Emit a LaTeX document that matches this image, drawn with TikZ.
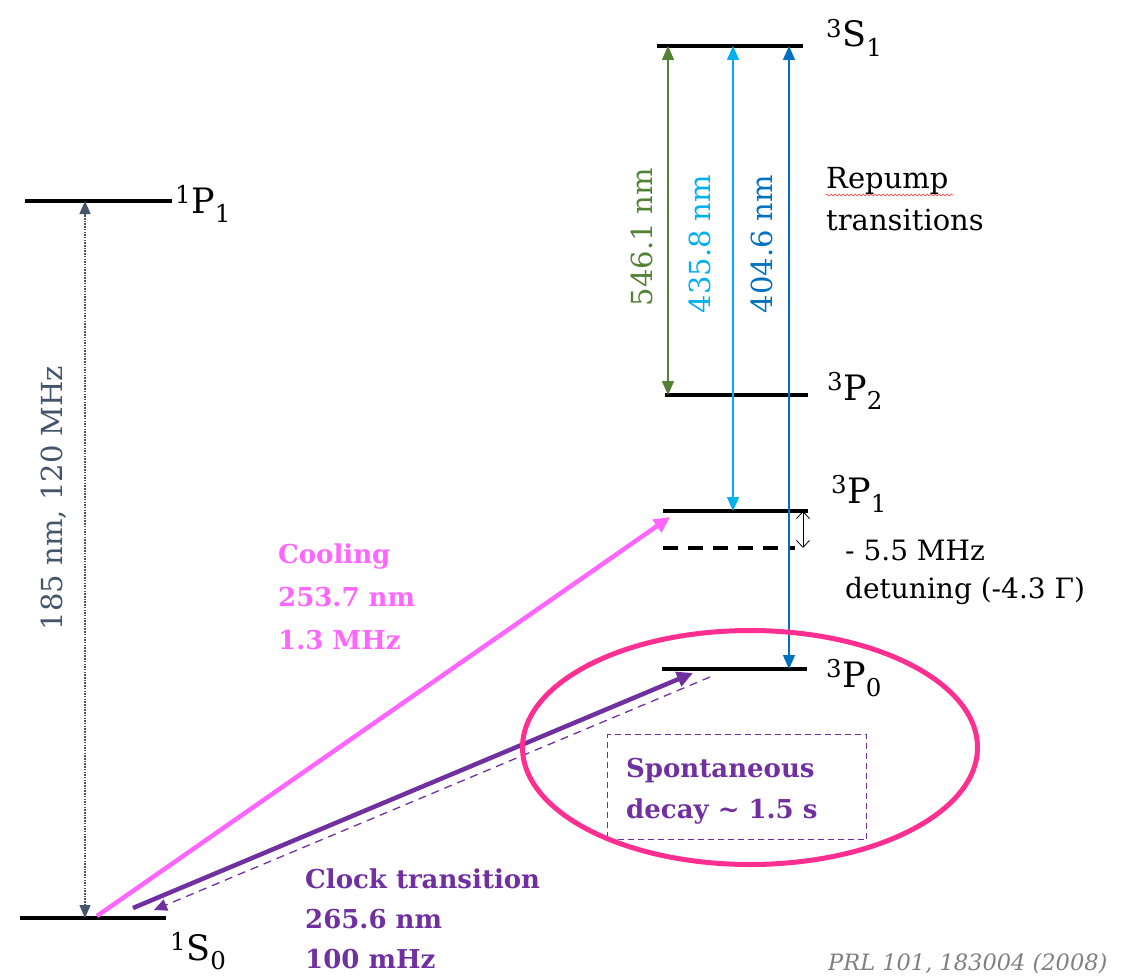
\documentclass[tikz,border=0pt]{standalone}
\usepackage{fontspec}
\setmainfont{DejaVu Serif}
\usetikzlibrary{arrows.meta,shapes.geometric,decorations.pathmorphing}
\definecolor{slate}{HTML}{44546A}
\definecolor{lgreen}{HTML}{548235}
\definecolor{lblue}{HTML}{00B0F0}
\definecolor{dblue}{HTML}{0070C0}
\definecolor{coolpink}{HTML}{FF66FF}
\definecolor{clockpurple}{HTML}{7030A0}
\definecolor{ovalpink}{HTML}{FF2F92}
\definecolor{refgray}{HTML}{7F7F7F}
\newcommand{\termlbl}[3]{\textsuperscript{#1}#2\textsubscript{#3}}
\begin{document}
\begin{tikzpicture}[x=1pt,y=-1pt,
  levelline/.style={line width=3.2pt, black},
  statelbl/.style={inner sep=0pt, anchor=base west, font=\fontsize{35}{42}\selectfont},
  plaintxt/.style={inner sep=0pt, anchor=base west, font=\fontsize{29}{34}\selectfont},
  boldtxt/.style={inner sep=0pt, anchor=base west, font=\fontsize{26}{32}\selectfont\bfseries},
  rottxt/.style={inner sep=0pt, anchor=base, rotate=90, font=\fontsize{29}{34}\selectfont},
  bothtri/.style={{Triangle[length=14pt,width=12pt]}-{Triangle[length=14pt,width=12pt]}, line width=1.5pt},
]
\useasboundingbox (0,0) rectangle (1124,979);
\clip (0,0) rectangle (1124,979);

% level end points
\coordinate (P1a) at (25,201);   \coordinate (P1b) at (172,201);
\coordinate (S0a) at (20,918);   \coordinate (S0b) at (166,918);
\coordinate (S1a) at (657,46);   \coordinate (S1b) at (803,46);
\coordinate (P2a) at (665,395);  \coordinate (P2b) at (808,395);
\coordinate (tP1a) at (663,511); \coordinate (tP1b) at (808,511);
\coordinate (Da) at (663,548);   \coordinate (Db) at (795,548);
\coordinate (P0a) at (662,669);  \coordinate (P0b) at (807,669);

% levels
\draw[levelline] (P1a) -- (P1b);
\draw[levelline] (S0a) -- (S0b);
\draw[levelline] (S1a) -- (S1b);
\draw[levelline] (P2a) -- (P2b);
\draw[levelline] (tP1a) -- (tP1b);
\draw[levelline, dash pattern=on 15pt off 10pt] (Da) -- (Db);
\draw[levelline] (P0a) -- (P0b);

% level labels
\node[statelbl] (lP1) at (175,213) {\termlbl{1}{P}{1}};
\node[statelbl] (lS0) at (170,960) {\termlbl{1}{S}{0}};
\node[statelbl] (lS1) at (826,47) {\termlbl{3}{S}{1}};
\node[statelbl] (lP2) at (827,400) {\termlbl{3}{P}{2}};
\node[statelbl] (ltP1) at (831,503) {\termlbl{3}{P}{1}};
\node[statelbl] (lP0) at (826,687) {\termlbl{3}{P}{0}};

% 185 nm transition
\coordinate (gS0) at (85,918); \coordinate (gP1) at (85,201);
\draw[slate, line width=1.3pt, dash pattern=on 1.5pt off 1.2pt,
  {Triangle[length=13pt,width=11pt]}-{Triangle[length=13pt,width=11pt]}] (gS0) -- (gP1);
\node[rottxt, text=slate] (l185) at (62,498) {185 nm, 120 MHz};

% repump transitions
\coordinate (grS1) at (668,46);  \coordinate (grP2) at (668,395);
\coordinate (lbS1) at (733,46);  \coordinate (lbP1) at (733,511);
\coordinate (dbS1) at (789,46);  \coordinate (dbP0) at (789,669);
\draw[bothtri, lgreen] (grP2) -- (grS1);
\draw[bothtri, lblue, line width=1.3pt] (lbP1) -- (lbS1);
\draw[bothtri, dblue, line width=1.3pt] (dbP0) -- (dbS1);
\node[rottxt, text=lgreen] (l546) at (652,237) {546.1 nm};
\node[rottxt, text=lblue] (l435) at (710,244) {435.8 nm};
\node[rottxt, text=dblue] (l404) at (772,244) {404.6 nm};
\node[plaintxt] (rep1) at (826,188) {Repump};
\node[plaintxt] (rep2) at (826,230) {transitions};
\coordinate (sq1) at (826,195); \coordinate (sq2) at (953,195);
\draw[red!80, line width=0.6pt, decorate, decoration={snake, amplitude=1pt, segment length=4pt}] (sq1) -- (sq2);

% detuning
\coordinate (dtA) at (803,511); \coordinate (dtB) at (803,548);
\draw[line width=0.8pt, {Straight Barb[length=7pt,width=13pt]}-{Straight Barb[length=7pt,width=13pt]}] (dtA) -- (dtB);
\node[plaintxt, font=\fontsize{28}{33}\selectfont] (det1) at (845,560) {- 5.5 MHz};
\node[plaintxt, font=\fontsize{28}{33}\selectfont] (det2) at (845,598) {detuning (-4.3 Γ)};

% cooling
\coordinate (coA) at (97,916); \coordinate (coB) at (670,517);
\draw[coolpink, line width=4.5pt, -{Triangle[length=16pt,width=15pt]}] (coA) -- (coB);
\node[boldtxt, text=coolpink] (co1) at (278,563) {Cooling};
\node[boldtxt, text=coolpink] (co2) at (278,606) {253.7 nm};
\node[boldtxt, text=coolpink] (co3) at (278,649) {1.3 MHz};

% clock
\coordinate (clA) at (133,908); \coordinate (clB) at (693,673);
\coordinate (dcA) at (710,677); \coordinate (dcB) at (154,910);
\draw[clockpurple, line width=4.5pt, -{Triangle[length=16pt,width=15pt]}] (clA) -- (clB);
\draw[clockpurple, line width=1.3pt, dash pattern=on 8pt off 6pt, -{Triangle[length=13pt,width=12pt]}] (dcA) -- (dcB);
\node[boldtxt, text=clockpurple] (cl1) at (305,888) {Clock transition};
\node[boldtxt, text=clockpurple] (cl2) at (305,928) {265.6 nm};
\node[boldtxt, text=clockpurple] (cl3) at (305,968) {100 mHz};

% spontaneous decay
\node[draw=clockpurple, line width=1pt, dash pattern=on 6pt off 4pt, minimum width=259pt, minimum height=105pt, inner sep=0pt, anchor=north west] (decaybox) at (607,734) {};
\node[boldtxt, text=clockpurple] (sp1) at (626,777) {Spontaneous};
\node[boldtxt, text=clockpurple] (sp2) at (626,818) {decay \textasciitilde{} 1.5 s};
\node[draw=ovalpink, line width=5pt, ellipse, minimum width=455pt, minimum height=234pt, inner sep=0pt] (oval) at (750,747.5) {};

% reference
\node[inner sep=0pt, anchor=base west, text=refgray, font=\fontsize{22.5}{27}\selectfont\itshape] (ref) at (828,970) {PRL 101, 183004 (2008)};
\end{tikzpicture}
\end{document}
